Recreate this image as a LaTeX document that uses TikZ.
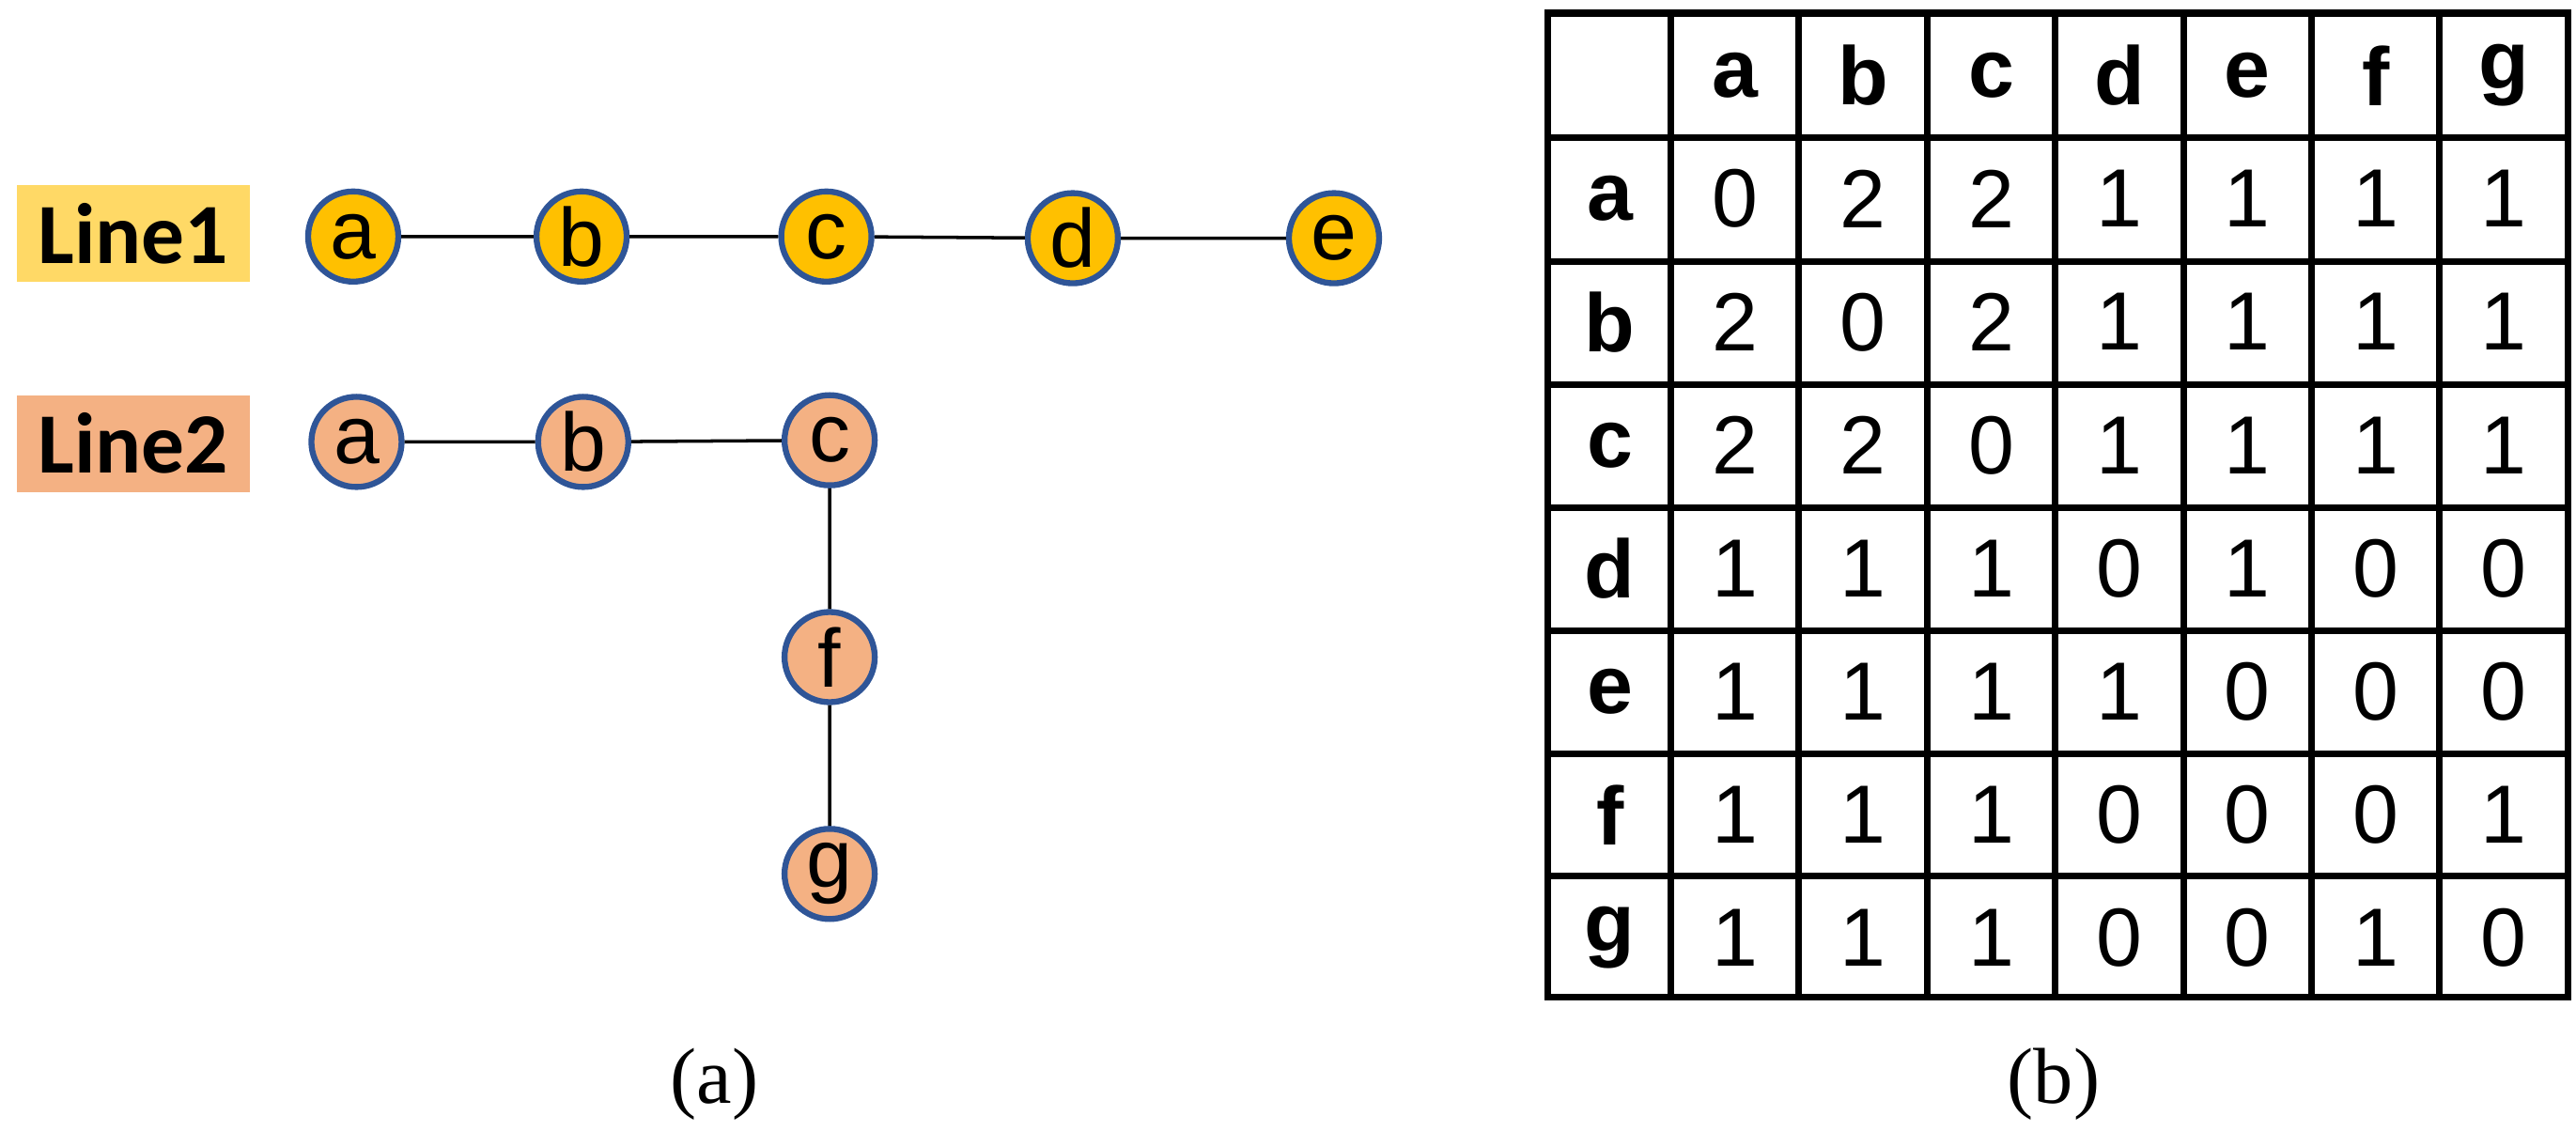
\documentclass[tikz,border=0pt]{standalone}
\usepackage{fontspec}
\setmainfont{Liberation Serif}
\newfontfamily\sans{Liberation Sans}
\newfontfamily\lsans{Carlito}
\definecolor{yel}{HTML}{FFC000}
\definecolor{lyel}{HTML}{FFD966}
\definecolor{org}{HTML}{F4B183}
\definecolor{bd}{HTML}{2F5597}
\begin{document}
\begin{tikzpicture}[x=0.017487cm,y=-0.017487cm,
  v/.style={circle,draw=bd,line width=1.8pt,minimum size=0.96cm,inner sep=0pt,font=\sans\fontsize{25}{25}\selectfont},
  lab/.style={minimum width=2.48cm,minimum height=1.03cm,inner sep=0pt,font=\lsans\bfseries\fontsize{26}{26}\selectfont},
  e/.style={line width=1pt},
  cell/.style={minimum width=1.36cm,minimum height=1.31cm,inner sep=0pt,font=\sans\fontsize{25}{25}\selectfont},
  hd/.style={cell,font=\sans\bfseries\fontsize{25}{25}\selectfont},
  captxt/.style={font=\fontsize{24}{24}\selectfont}]
\useasboundingbox (0,0) rectangle (1568,688);
\node[lab,fill=lyel] (L1) at (81,142) {Line1};
\node[lab,fill=org] (L2) at (81,270) {Line2};
\node[v,fill=yel] (a1) at (215,144) {a};
\node[v,fill=yel] (b1) at (354,144) {b};
\node[v,fill=yel] (c1) at (503,144) {c};
\node[v,fill=yel] (d1) at (653,145) {d};
\node[v,fill=yel] (e1) at (812,145) {e};
\draw[e] (a1)--(b1) (b1)--(c1) (c1)--(d1) (d1)--(e1);
\node[v,fill=org] (a2) at (217,269) {a};
\node[v,fill=org] (b2) at (355,269) {b};
\node[v,fill=org] (c2) at (505,268) {c};
\node[v,fill=org] (f2) at (505,400) {f};
\node[v,fill=org] (g2) at (505,532) {g};
\draw[e] (a2)--(b2) (b2)--(c2) (c2)--(f2) (f2)--(g2);
\node[captxt] (ca) at (435,660) {(a)};
\node[captxt] (cb) at (1250,660) {(b)};
% table
\draw[line width=2pt] (942,8) rectangle (1563,607);
\foreach \x in {1017,1095,1173,1251,1329,1407,1485} \draw[line width=2pt] (\x,8)--(\x,607);
\foreach \y in {84,159,234,309,384,459,533} \draw[line width=2pt] (942,\y)--(1563,\y);
\foreach \h [count=\i] in {a,b,c,d,e,f,g}{
  \node[hd] (h\i) at ({1017+78*\i-39},46) {\h};
  \node[hd] (r\i) at (980,{84+75*\i-38}) {\h};
}
\foreach \row [count=\r] in {{0,2,2,1,1,1,1},{2,0,2,1,1,1,1},{2,2,0,1,1,1,1},{1,1,1,0,1,0,0},{1,1,1,1,0,0,0},{1,1,1,0,0,0,1},{1,1,1,0,0,1,0}}{
  \foreach \val [count=\c] in \row {
    \node[cell] (m\r\c) at ({1017+78*\c-39},{84+75*\r-38}) {\val};
  }
}
\end{tikzpicture}
\end{document}
